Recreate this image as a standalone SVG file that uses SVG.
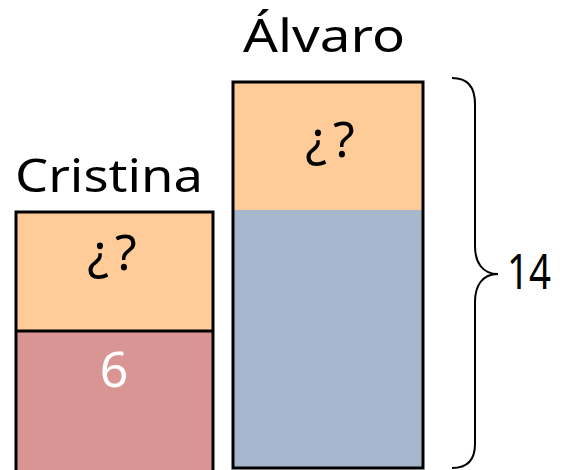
<svg xmlns="http://www.w3.org/2000/svg" width="574" height="470" viewBox="0 0 574 470">
<style>
.lbl{font-family:"Noto Sans","DejaVu Sans",sans-serif;fill:#000;}
.name{font-size:46px;}
.q{font-size:50px;text-anchor:middle;}
.edge{fill:none;stroke:#000;stroke-width:3;}
</style>
<rect width="574" height="470" fill="#fff"/>
<g id="cristina">
<rect x="16" y="212" width="197" height="120" fill="#FFCC99"/>
<rect x="16" y="332" width="197" height="140" fill="#D99594"/>
<path class="edge" d="M16 472 V212 H213 V472 M16 331 H213"/>
<text class="lbl name" x="15" y="192" textLength="188" lengthAdjust="spacingAndGlyphs">Cristina</text>
<text class="lbl q" x="115" y="270" letter-spacing="6">¿?</text>
<text class="lbl q" x="114" y="387" style="fill:#fff">6</text>
</g>
<g id="alvaro">
<rect x="233" y="82" width="190" height="129" fill="#FFCC99"/>
<rect x="233" y="210" width="190" height="258" fill="#A6B6CC"/>
<rect class="edge" x="233" y="82" width="190" height="386"/>
<text class="lbl name" x="243" y="52" textLength="162" lengthAdjust="spacingAndGlyphs">Álvaro</text>
<text class="lbl q" x="333" y="157" letter-spacing="6">¿?</text>
</g>
<g id="connectors">
<path d="M452 78 C468 78 475 88 475 104 V246 C475 262 482 274 498 274 C482 274 475 286 475 302 V444 C475 460 468 468 452 468" fill="none" stroke="#000" stroke-width="2"/>
</g>
<g id="total">
<text class="lbl" x="529" y="289" font-size="50" text-anchor="middle" textLength="44" lengthAdjust="spacingAndGlyphs">14</text>
</g>
</svg>
